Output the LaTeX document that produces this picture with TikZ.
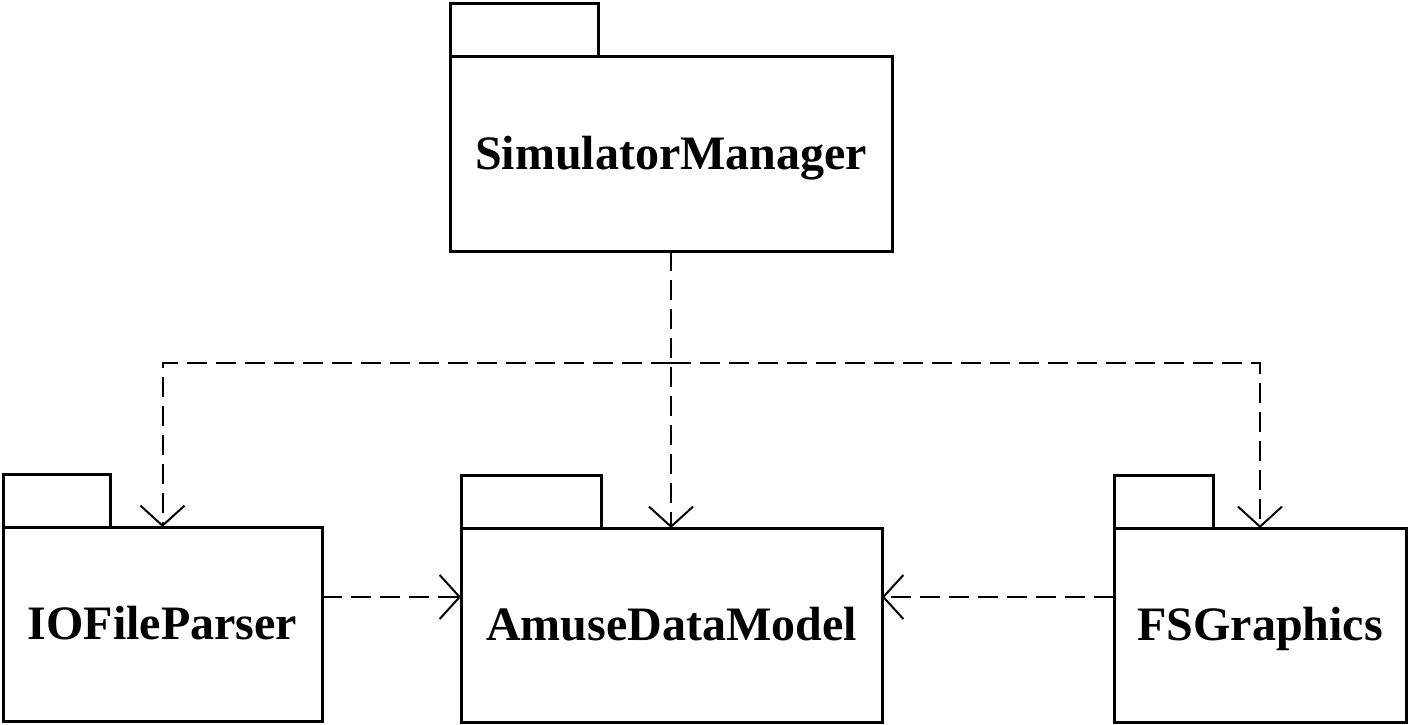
\documentclass[tikz,border=0pt]{standalone}
\usepackage{fontspec}
\setmainfont{Liberation Serif}
\usetikzlibrary{arrows.meta}

\begin{document}
\begin{tikzpicture}[x=1pt,y=-1pt,
  pkgbody/.style={draw, line width=3pt, rectangle, inner sep=0pt, outer sep=0pt,
    minimum height=194pt, text height=32pt, text depth=2pt,
    font=\fontsize{48}{54}\selectfont\bfseries},
  pkgtab/.style={draw, line width=3pt, rectangle, inner sep=0pt, outer sep=0pt,
    minimum height=53pt, anchor=south west},
  dep/.style={line width=2pt, dash pattern=on 20pt off 9pt,
    -{Straight Barb[length=20pt,width=44pt,line width=2pt]}}
]
\useasboundingbox (0,0) rectangle (1408,725);

% packages
\node[pkgbody, minimum width=442pt] (SM) at (671,154) {SimulatorManager};
\node[pkgtab, minimum width=148pt] (SMtab) at (SM.north west) {};

\node[pkgbody, minimum width=319pt] (IO) at (162.5,624) {IOFileParser};
\node[pkgtab, minimum width=107pt] (IOtab) at (IO.north west) {};

\node[pkgbody, minimum width=421pt] (ADM) at (671.5,625) {AmuseDataModel};
\node[pkgtab, minimum width=140pt] (ADMtab) at (ADM.north west) {};

\node[pkgbody, minimum width=292pt] (FS) at (1260,625) {FSGraphics};
\node[pkgtab, minimum width=99pt] (FStab) at (FS.north west) {};

% dependencies
\coordinate (split) at (SM.south |- 0,363);
\draw[dep] (SM.south) -- (SM.south |- ADM.north);
\draw[dep] (split) -| (IO.north);
\draw[dep] (split) -| (FS.north);
\draw[dep] ([yshift=27pt]IO.east) -- ([yshift=27pt]IO.east -| ADM.west);
\draw[dep] ([yshift=28pt]FS.west) -- ([yshift=28pt]FS.west -| ADM.east);
\end{tikzpicture}
\end{document}
